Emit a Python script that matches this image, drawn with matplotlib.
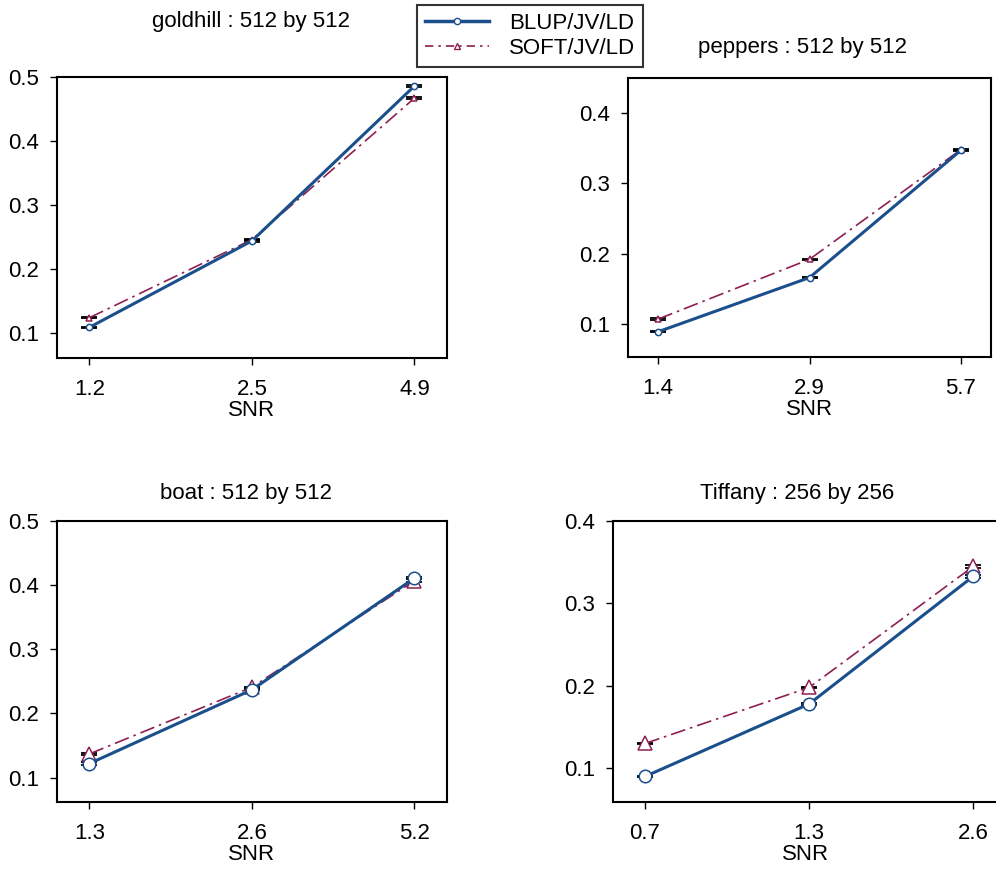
import matplotlib
matplotlib.use('Agg')
import matplotlib.pyplot as plt
from matplotlib.lines import Line2D

plt.rcParams['font.family'] = ['Liberation Sans', 'DejaVu Sans']
plt.rcParams['font.size'] = 16

# 四幅图像的数据
titles = ['goldhill : 512 by 512', 'peppers : 512 by 512',
          'boat : 512 by 512', 'Tiffany : 256 by 256']
snr_labels = [['1.2', '2.5', '4.9'], ['1.4', '2.9', '5.7'],
              ['1.3', '2.6', '5.2'], ['0.7', '1.3', '2.6']]
blup = [[0.109, 0.244, 0.486], [0.089, 0.166, 0.347],
        [0.122, 0.237, 0.411], [0.090, 0.178, 0.333]]
soft = [[0.124, 0.246, 0.467], [0.107, 0.192, 0.348],
        [0.137, 0.241, 0.407], [0.130, 0.198, 0.345]]
blup_err = [[0.001, 0.001, 0.001], [0.001, 0.001, 0.001],
            [0.002, 0.001, 0.001], [0.001, 0.001, 0.002]]
soft_err = [[0.001, 0.001, 0.001], [0.001, 0.001, 0.001],
            [0.001, 0.001, 0.002], [0.001, 0.001, 0.002]]
yticks = [[0.1, 0.2, 0.3, 0.4, 0.5], [0.1, 0.2, 0.3, 0.4],
          [0.1, 0.2, 0.3, 0.4, 0.5], [0.1, 0.2, 0.3, 0.4]]
ylims = [(0.061, 0.5), (0.053, 0.45), (0.062, 0.5), (0.059, 0.4)]

W, H = 996, 874
# 像素框: left, right, top, bottom
boxes = [(57, 447, 77, 358), (628, 991, 78, 357),
         (57, 447, 521, 802), (613, 998, 521, 802)]
title_pos = [(251, 22), (802, 48), (246, 493), (797, 493)]
msizes = [(4.5, 4.5), (4.5, 4.5), (9, 9.5), (9, 9.5)]

c_blup = '#1b4f8c'
c_soft = '#8e1f52'

fig = plt.figure(figsize=(W / 100, H / 100), dpi=100)

for i in range(4):
    l, r, t, b = boxes[i]
    ax = fig.add_axes([l / W, 1 - b / H, (r - l) / W, (b - t) / H])
    x = [1, 2, 3]
    ax.errorbar(x, blup[i], yerr=blup_err[i], fmt='none', ecolor='black',
                elinewidth=1.2, capsize=5.5, capthick=1.3, zorder=2)
    ax.errorbar(x, soft[i], yerr=soft_err[i], fmt='none', ecolor='black',
                elinewidth=1.2, capsize=5.5, capthick=1.3, zorder=2)
    ax.plot(x, soft[i], color=c_soft, lw=1.2, ls=(0, (9, 3, 1.5, 3)),
            marker='^', ms=msizes[i][1], mfc='white', mec=c_soft, mew=1.1, zorder=3)
    ax.plot(x, blup[i], color=c_blup, lw=2.2, ls='-',
            marker='o', ms=msizes[i][0], mfc='white', mec=c_blup, mew=1.1, zorder=4)
    if i == 3:
        ax.set_xlim(0.805, 3.15)
    else:
        ax.set_xlim(0.8, 3.2)
    ax.set_ylim(*ylims[i])
    ax.set_xticks(x)
    ax.set_xticklabels(snr_labels[i])
    ax.set_yticks(yticks[i])
    ax.set_yticklabels([str(v) for v in yticks[i]])
    ax.tick_params(direction='out', length=5, width=1, pad=10, labelsize=16)
    ax.tick_params(axis='y', pad=8)
    ax.set_xlabel('SNR', fontsize=16, labelpad=0)
    for s in ax.spines.values():
        s.set_linewidth(1.5)
    fig.text(title_pos[i][0] / W, 1 - title_pos[i][1] / H, titles[i],
             ha='center', va='center', fontsize=16)

handles = [Line2D([], [], color=c_blup, lw=2.5, marker='o', ms=4.5,
                  mfc='white', mec=c_blup),
           Line2D([], [], color=c_soft, lw=1.2, ls=(0, (5, 3, 1.5, 3)),
                  marker='^', ms=4, mfc='white', mec=c_soft)]
leg = fig.legend(handles, ['BLUP/JV/LD', 'SOFT/JV/LD'], loc='upper center',
                 bbox_to_anchor=(530 / W, 1 - 5 / H), fontsize=16,
                 frameon=True, fancybox=False, edgecolor='black',
                 handlelength=2.9, handletextpad=0.9, borderpad=0.35,
                 labelspacing=0.2, borderaxespad=0)
leg.get_frame().set_linewidth(1.5)

fig.savefig('out.png', dpi=100)
